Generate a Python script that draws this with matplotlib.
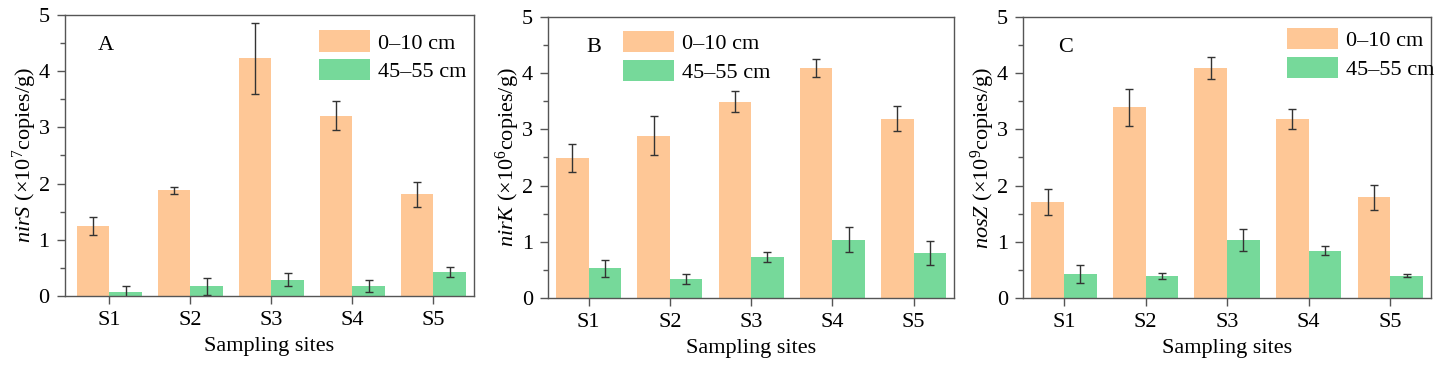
import matplotlib
matplotlib.use('Agg')
import matplotlib.pyplot as plt
import numpy as np
from matplotlib.ticker import MultipleLocator

plt.rcParams['font.family'] = 'Liberation Serif'
plt.rcParams['mathtext.fontset'] = 'custom'
plt.rcParams['mathtext.rm'] = 'Liberation Serif'
plt.rcParams['mathtext.it'] = 'Liberation Serif:italic'

sites = ['S1', 'S2', 'S3', 'S4', 'S5']
depth_labels = ['0–10 cm', '45–55 cm']

# panel A: nirS
nirs_top = [1.25, 1.88, 4.23, 3.21, 1.81]
nirs_top_err = [0.16, 0.06, 0.63, 0.25, 0.22]
nirs_deep = [0.07, 0.17, 0.29, 0.18, 0.43]
nirs_deep_err = [0.10, 0.15, 0.12, 0.11, 0.09]

# panel B: nirK
nirk_top = [2.49, 2.89, 3.49, 4.09, 3.19]
nirk_top_err = [0.25, 0.35, 0.19, 0.16, 0.22]
nirk_deep = [0.53, 0.34, 0.73, 1.04, 0.80]
nirk_deep_err = [0.15, 0.09, 0.09, 0.22, 0.22]

# panel C: nosZ
nosz_top = [1.70, 3.39, 4.09, 3.19, 1.79]
nosz_top_err = [0.23, 0.33, 0.20, 0.18, 0.22]
nosz_deep = [0.42, 0.39, 1.03, 0.84, 0.40]
nosz_deep_err = [0.16, 0.06, 0.20, 0.08, 0.02]

orange = '#FEC796'
green = '#76D99A'
spine_col = '#555555'

panels = [
    ('A', r'$\mathit{nirS}$ (×10$^7$copies/g)', nirs_top, nirs_top_err, nirs_deep, nirs_deep_err,
     [0.045, 0.1935, 0.2834, 0.766], (0.622, 0.945), -0.55, 0.08),
    ('B', r'$\mathit{nirK}$ (×10$^6$copies/g)', nirk_top, nirk_top_err, nirk_deep, nirk_deep_err,
     [0.3798, 0.188, 0.2814, 0.766], (0.185, 0.95), -0.5, 0.094),
    ('C', r'$\mathit{nosZ}$ (×10$^9$copies/g)', nosz_top, nosz_top_err, nosz_deep, nosz_deep_err,
     [0.709, 0.188, 0.2828, 0.766], (0.647, 0.96), -0.5, 0.086),
]

fig = plt.figure(figsize=(14.43, 3.67), dpi=100)
x = np.arange(len(sites))
w = 0.4

for letter, ylab, top, top_err, deep, deep_err, rect, leg_pos, x0, lx in panels:
    ax = fig.add_axes(rect)
    ekw = dict(ecolor='#333333', elinewidth=1.0, capsize=3.2, capthick=1.0)
    ax.bar(x - w, top, w, align='edge', color=orange, yerr=top_err, error_kw=ekw, label=depth_labels[0])
    ax.bar(x, deep, w, align='edge', color=green, yerr=deep_err, error_kw=ekw, label=depth_labels[1])
    ax.set_xlim(x0, 4.5)
    ax.set_ylim(0, 5)
    ax.set_xticks(x)
    ax.set_xticklabels(sites)
    ax.yaxis.set_major_locator(MultipleLocator(1))
    ax.yaxis.set_minor_locator(MultipleLocator(0.5))
    ax.tick_params(axis='both', which='major', direction='out', length=6, width=1,
                   color=spine_col, labelsize=16, pad=5)
    ax.tick_params(axis='y', which='minor', direction='out', length=3.5, width=1, color=spine_col)
    for s in ax.spines.values():
        s.set_color(spine_col)
        s.set_linewidth(1)
    ax.set_xlabel('Sampling sites', fontsize=16, labelpad=5)
    ax.set_ylabel(ylab, fontsize=16, labelpad=0)
    ax.text(lx, 0.89, letter, transform=ax.transAxes, fontsize=16, va='center', ha='left')
    ax.legend(loc='upper left', bbox_to_anchor=leg_pos, frameon=False, fontsize=16,
              handlelength=2.3, handleheight=1.1, handletextpad=0.35,
              labelspacing=0.25, borderpad=0, borderaxespad=0)

fig.savefig('out.png', dpi=100)
